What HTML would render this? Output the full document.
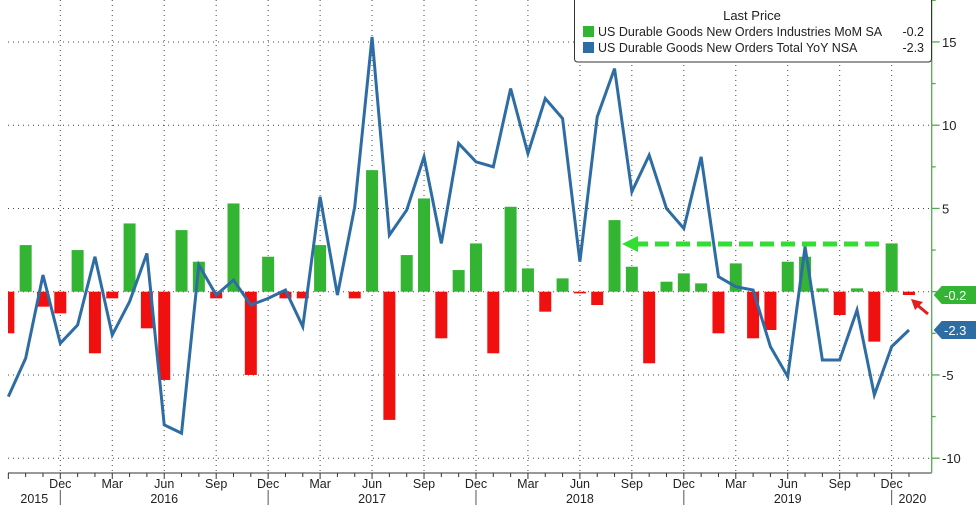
<!DOCTYPE html>
<html><head><meta charset="utf-8"><style>
body{margin:0;background:#fff;}
svg{display:block;font-family:"Liberation Sans","DejaVu Sans",sans-serif;}
</style></head><body>
<svg id="chart" width="976" height="505" viewBox="0 0 976 505" xmlns="http://www.w3.org/2000/svg">
<g id="grid"></g>
<g id="bars"></g>
<g id="line"></g>
<g id="axes"></g>
<g>
<rect x="574.5" y="-4" width="357" height="66" rx="3" fill="#fff" stroke="#333" stroke-width="1"/>
<text x="752" y="20" font-size="13" text-anchor="middle" fill="#222">Last Price</text>
<rect x="583" y="26" width="11" height="11" fill="#33b533"/>
<text x="598" y="36" font-size="12.5" fill="#222">US Durable Goods New Orders Industries MoM SA</text>
<text x="924" y="36" font-size="12.5" fill="#222" text-anchor="end">-0.2</text>
<rect x="583" y="42" width="11" height="11" fill="#2e6da4"/>
<text x="598" y="52" font-size="12.5" fill="#222">US Durable Goods New Orders Total YoY NSA</text>
<text x="924" y="52" font-size="12.5" fill="#222" text-anchor="end">-2.3</text>
</g>
<g>
<line x1="634" y1="244" x2="884" y2="244" stroke="#33dd33" stroke-width="5" stroke-dasharray="14,7"/>
<polygon points="622,244 638,236 638,252" fill="#33dd33"/>
</g>
<g>
<line x1="928" y1="314" x2="916" y2="304" stroke="#e02020" stroke-width="3"/>
<polygon points="911,299 923,302 915,310" fill="#e02020"/>
</g>
</svg>
<script>
const months=["Sep15","Oct15","Nov15","Dec15","Jan16","Feb16","Mar16","Apr16","May16","Jun16","Jul16","Aug16","Sep16","Oct16","Nov16","Dec16","Jan17","Feb17","Mar17","Apr17","May17","Jun17","Jul17","Aug17","Sep17","Oct17","Nov17","Dec17","Jan18","Feb18","Mar18","Apr18","May18","Jun18","Jul18","Aug18","Sep18","Oct18","Nov18","Dec18","Jan19","Feb19","Mar19","Apr19","May19","Jun19","Jul19","Aug19","Sep19","Oct19","Nov19","Dec19","Jan20"];
const momValues=[-2.5,2.8,-0.9,-1.3,2.5,-3.7,-0.4,4.1,-2.2,-5.3,3.7,1.8,-0.4,5.3,-5.0,2.1,-0.4,-0.4,2.8,0,-0.4,7.3,-7.7,2.2,5.6,-2.8,1.3,2.9,-3.7,5.1,1.4,-1.2,0.8,-0.1,-0.8,4.3,1.5,-4.3,0.6,1.1,0.5,-2.5,1.7,-2.8,-2.3,1.8,2.1,0.2,-1.4,0.2,-3.0,2.9,-0.2];
const yoyValues=[-6.3,-4.0,1.0,-3.1,-2.0,2.1,-2.6,-0.6,2.3,-8.0,-8.5,1.6,-0.2,0.7,-0.8,-0.4,0.1,-2.1,5.7,-0.2,5.1,15.3,3.4,4.9,8.1,2.9,8.9,7.8,7.5,12.2,8.3,11.6,10.4,1.8,10.5,13.4,6.0,8.2,5.0,3.8,8.1,0.9,0.3,0.1,-3.3,-5.1,2.7,-4.1,-4.1,-1.1,-6.2,-3.3,-2.3];
const yTicks=[15,10,5,0,-5,-10];
const monthLabels=["Sep","Dec","Mar","Jun"];
const years=[["2015",1.5],["2016",9],["2017",21],["2018",33],["2019",45],["2020",52.2]];
const NS="http://www.w3.org/2000/svg";
const X0=8,X1=931.7,Y0=0,Y1=473;
function x(i){return 60.3+17.32*(i-3);}
function y(v){return 291.7-16.65*v;}
function mk(tag,attrs,parent){const e=document.createElementNS(NS,tag);for(const k in attrs)e.setAttribute(k,attrs[k]);parent.appendChild(e);return e;}
const grid=document.getElementById('grid'),bars=document.getElementById('bars'),lineG=document.getElementById('line'),axes=document.getElementById('axes');
yTicks.forEach(t=>{const l=mk('line',{x1:X0,x2:X1,y1:y(t),y2:y(t),stroke:'#444','stroke-width':1,'stroke-dasharray':'1,4'},grid);

});
months.forEach((m,i)=>{
 const px=x(i);
 if(i%3===0){
  if(i>0){const l=mk('line',{x1:px,x2:px,y1:Y0,y2:Y1,stroke:'#444','stroke-width':1,'stroke-dasharray':'1,4'},grid);
  
  
  const t=mk('text',{x:px,y:488,'font-size':12.5,'text-anchor':'middle',fill:'#222'},axes);t.textContent=monthLabels[(i/3)%4];
  
  }
 }
 if(px>=X0){const tk=mk('line',{x1:px,x2:px,y1:Y1,y2:Y1+(i%3===0?6:4),stroke:'#333'},axes);
 
 }
 const v=momValues[i];
 if(v!==0){const r=mk('rect',{x:Math.max(px-6,X0),width:Math.min(px+6,X1)-Math.max(px-6,X0),y:Math.min(y(0),y(v)),height:Math.max(Math.abs(y(v)-y(0)),1.5),fill:v>=0?'#33b533':'#f01010'},bars);
 
 }
});
const pts=yoyValues.map((v,i)=>x(i)+','+y(v)).join(' ');
const pl=mk('polyline',{points:pts,fill:'none',stroke:'#2e6da4','stroke-width':3,'stroke-linejoin':'miter'},lineG);


const xa=mk('line',{x1:X0,x2:X1,y1:Y1,y2:Y1,stroke:'#333'},axes);


const ya=mk('line',{x1:X1,x2:X1,y1:0,y2:Y1,stroke:'#55aa55','stroke-width':1.3},axes);


for(let v=-10;v<=17.5;v+=2.5){const tk=mk('line',{x1:X1,x2:X1+(v%5===0?8:4),y1:y(v),y2:y(v),stroke:'#55aa55','stroke-width':1.3},axes);

}
yTicks.forEach(t=>{if(t===0)return;const e=mk('text',{x:942,y:y(t)+5,'font-size':13,fill:'#222'},axes);e.textContent=(t<0?'-':'')+Math.abs(t);

});
years.forEach(([lbl,i])=>{const e=mk('text',{x:x(i),y:503,'font-size':12.5,'text-anchor':'middle',fill:'#222'},axes);e.textContent=lbl;

});
[3,15,27,39,51].forEach(i=>{const s=mk('line',{x1:x(i),x2:x(i),y1:490,y2:505,stroke:'#555'},axes);

});
function tag(v,color,name){const yy=y(v);const g=mk('g',{},axes);


mk('polygon',{points:`${X1+2},${yy} ${X1+10},${yy-9} 976,${yy-9} 976,${yy+9} ${X1+10},${yy+9}`,fill:color},g);
const t=mk('text',{x:944,y:yy+5,'font-size':13,fill:'#fff'},g);t.textContent=v.toFixed(1);}
tag(momValues[momValues.length-1],'#33b533','tag-mom-last');
tag(yoyValues[yoyValues.length-1],'#2e6da4','tag-yoy-last');
</script>
</body></html>
